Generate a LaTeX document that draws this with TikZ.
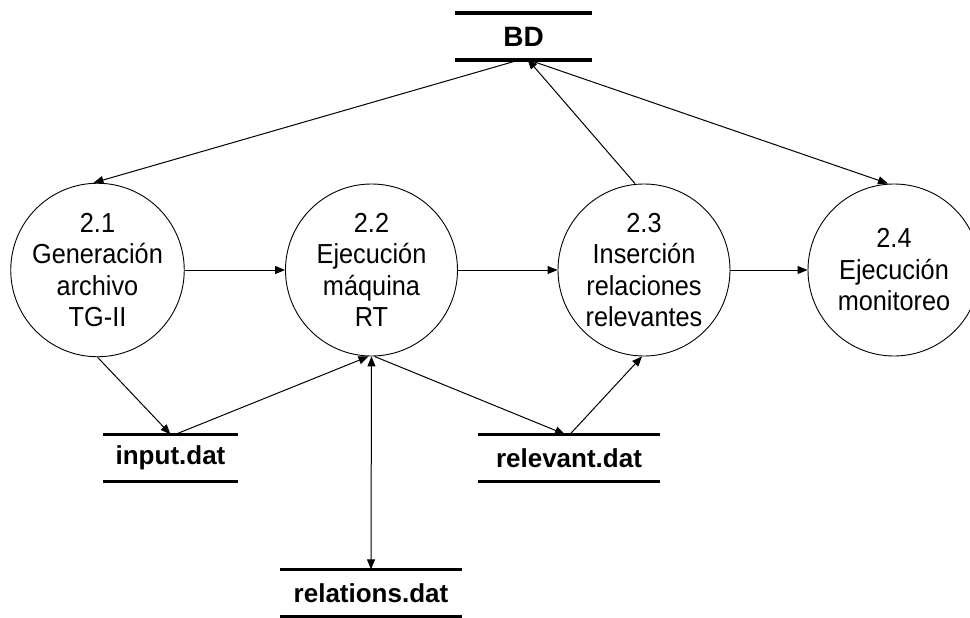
\documentclass[tikz,border=0pt]{standalone}
\usepackage{fontspec}
\setmainfont{Liberation Sans}
\newfontfamily\circfont[FakeStretch=0.92]{Liberation Sans}
\usetikzlibrary{arrows.meta}
\begin{document}
\begin{tikzpicture}[x=1pt,y=-1pt,
  process/.style={circle,draw,line width=0.9pt,minimum size=172pt,inner sep=0pt,
    align=center,font=\circfont\fontsize{27.5}{31.5}\selectfont},
  store/.style={inner sep=0pt,minimum height=47pt,font=\bfseries\fontsize{26}{30}\selectfont},
  storeline/.style={line width=3.5pt},
  flow/.style={line width=1pt,-{Triangle[length=10pt,width=8pt]}},
  flowboth/.style={line width=1pt,{Triangle[length=10pt,width=8pt]}-{Triangle[length=10pt,width=8pt]}}]
\useasboundingbox (0,0) rectangle (970,618);

% processes
\node[process] (c21) at (97.5,270) {2.1\\Generación\\archivo\\TG-II};
\node[process] (c22) at (371.5,270) {2.2\\Ejecución\\máquina\\RT};
\node[process] (c23) at (644,270) {2.3\\Inserción\\relaciones\\relevantes};
\node[process] (c24) at (894,270) {2.4\\Ejecución\\monitoreo};

% data stores
\node[store,minimum width=137pt,font=\bfseries\fontsize{28}{30}\selectfont] (bd) at (523.5,36.5) {BD};
\node[store,minimum width=135pt] (input) at (170.5,458) {input.dat};
\node[store,minimum width=182pt] (relevant) at (569,458) {relevant.dat};
\node[store,minimum width=182pt] (relations) at (371,593) {relations.dat};

\foreach \s in {bd,input,relevant,relations}{
  \draw[storeline] (\s.north west) -- (\s.north east);
  \draw[storeline] (\s.south west) -- (\s.south east);
}

% flows between processes
\draw[flow] (c21.east) -- (c22.west);
\draw[flow] (c22.east) -- (c23.west);
\draw[flow] (c23.east) -- (c24.west);

% flows to and from BD
\draw[flow] ([xshift=-5pt]bd.south) -- ([xshift=-4pt]c21.north);
\draw[flow] ([xshift=6pt]bd.south) -- ([xshift=-6pt]c24.north);
\draw[flow] ([xshift=-9pt]c23.north) -- ([xshift=4pt,yshift=1pt]bd.south);

% flows through the files
\draw[flow] (c21.south) -- (input.north);
\draw[flow] ([xshift=5pt]input.north) -- ([xshift=-3pt]c22.south);
\draw[flow] ([xshift=3pt]c22.south) -- ([xshift=-4pt]relevant.north);
\draw[flow] ([xshift=1pt]relevant.north) -- ([xshift=-2pt]c23.south);
\draw[flowboth] (c22.south) -- (relations.north);
\end{tikzpicture}
\end{document}
